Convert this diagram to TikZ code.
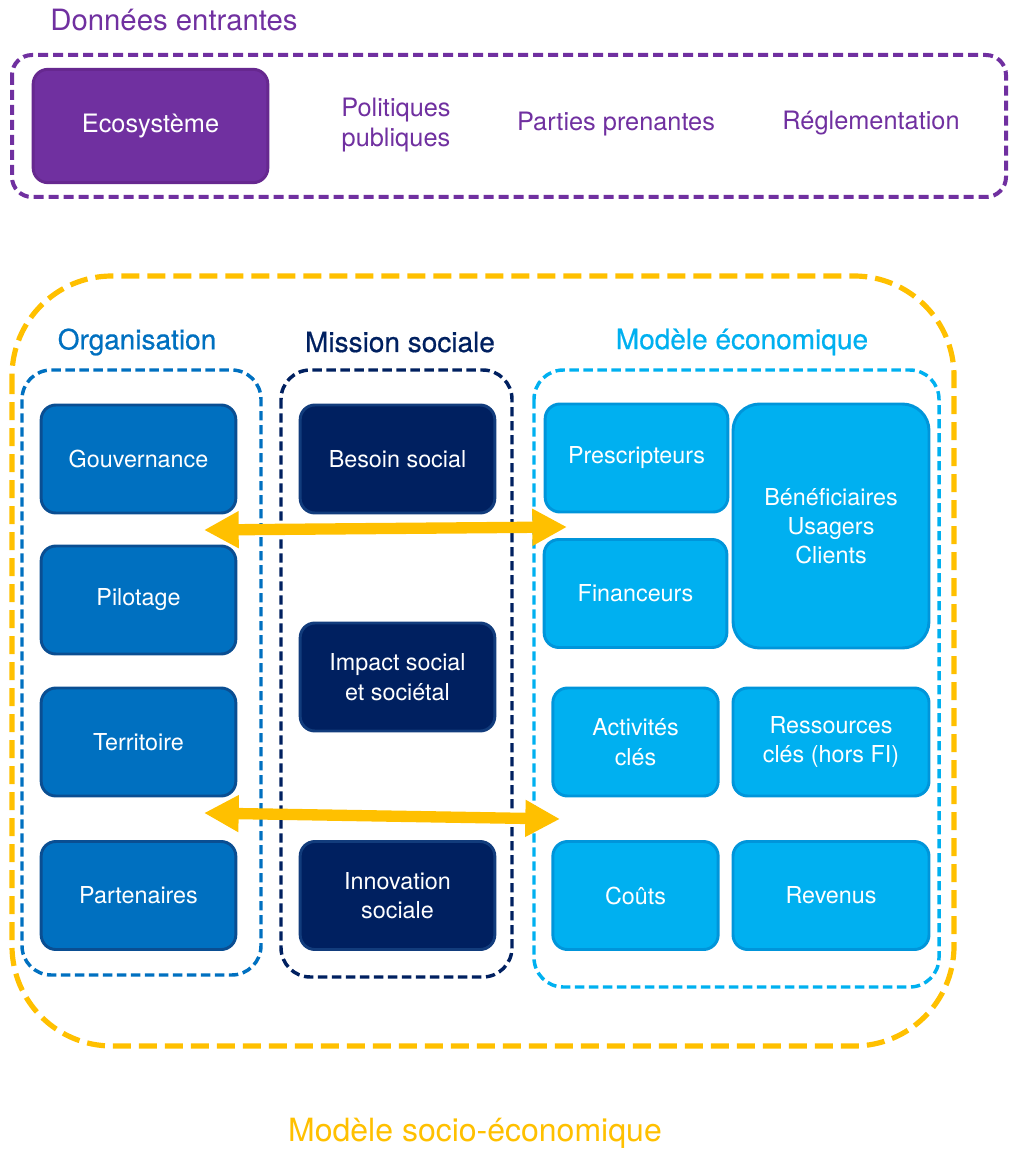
\documentclass[tikz,border=0pt]{standalone}
\usepackage{fontspec}
\setmainfont{TeX Gyre Heros}
\newfontfamily\headfont{TeX Gyre Heros}[FakeBold=0.6]
\usetikzlibrary{arrows.meta}

\definecolor{violet}{HTML}{7030A0}
\definecolor{violetdark}{HTML}{66288F}
\definecolor{orgblue}{HTML}{0070C0}
\definecolor{orgdark}{HTML}{0A4E92}
\definecolor{navy}{HTML}{002060}
\definecolor{navyedge}{HTML}{123C7C}
\definecolor{ecoblue}{HTML}{00B0F0}
\definecolor{ecodark}{HTML}{0095DA}
\definecolor{gold}{HTML}{FFC000}

\tikzset{
  card/.style={rounded corners=11pt, line width=2.2pt, align=center,
    text=white, inner sep=2pt, font=\fontsize{17.5}{22}\selectfont},
  orgcard/.style={card, fill=orgblue, draw=orgdark,
    minimum width=146pt, minimum height=81pt},
  miscard/.style={card, fill=navy, draw=navyedge,
    minimum width=146pt, minimum height=81pt},
  ecocard/.style={card, fill=ecoblue, draw=ecodark, minimum height=81pt},
  heading/.style={font=\headfont\fontsize{21}{25}\selectfont},
  frame/.style={line width=2.6pt, dash pattern=on 7pt off 3.5pt, rounded corners=22pt},
  link/.style={gold, line width=8.5pt, {Triangle[length=26pt,width=26pt]}-{Triangle[length=26pt,width=26pt]}}
}

\begin{document}
\begin{tikzpicture}[x=0.75pt, y=-0.75pt]
  \useasboundingbox (0,0) rectangle (1009,1151);

  % Incoming data
  \node[text=violet, font=\fontsize{22}{26}\selectfont] (datatitle) at (174,20) {Données entrantes};
  \draw[violet, line width=3pt, dash pattern=on 7.5pt off 3.75pt, rounded corners=15pt]
    (12,55) rectangle (1006,197);
  \node[card, fill=violet, draw=violetdark, minimum width=176pt, minimum height=85pt,
    font=\fontsize{19}{23}\selectfont] (eco) at (150.5,126) {Ecosystème};
  \foreach \name/\x/\y/\txt in {pol/396/125/{Politiques\\publiques},
      parties/616/124/{Parties prenantes}, regl/871/123/{Réglementation}} {
    \node[text=violet, align=center, font=\fontsize{19}{23}\selectfont] (\name) at (\x,\y) {\txt};
  }

  % Socio-economic model frame
  \draw[gold, line width=3.9pt, dash pattern=on 13.5pt off 6pt, rounded corners=75pt]
    (12,276) rectangle (954,1046);
  \node[text=gold, font=\fontsize{24}{28}\selectfont] (smtitle) at (475,1133) {Modèle socio-économique};

  % Organisation
  \node[heading, text=orgblue] (orgtitle) at (137,342) {Organisation};
  \draw[frame, orgblue] (22,370) rectangle (261,975);
  \foreach \name/\y/\txt in {gouv/459/Gouvernance, pilot/600/Pilotage,
      terr/742/Territoire, part/895.5/Partenaires} {
    \node[orgcard] (\name) at (138.5,\y) {\txt};
  }

  % Social mission
  \node[heading, text=navy] (mistitle) at (400,342) {Mission sociale};
  \draw[frame, navy] (281,370) rectangle (512,977);
  \foreach \name/\y/\txt in {besoin/459/{Besoin social},
      impact/677/{Impact social\\et sociétal}, innov/895.5/{Innovation\\sociale}} {
    \node[miscard] (\name) at (397.5,\y) {\txt};
  }

  % Business model
  \node[heading, text=ecoblue] (ecotitle) at (742,342) {Modèle économique};
  \draw[frame, ecoblue] (534,370) rectangle (939,987);
  \node[ecocard, minimum width=137pt] (presc) at (636.5,458) {Prescripteurs};
  \node[ecocard, minimum width=137pt] (fin) at (635.5,593.5) {Financeurs};
  \node[ecocard, minimum width=147pt, minimum height=183pt, rounded corners=20pt]
    (benef) at (831,526) {Bénéficiaires\\Usagers\\Clients};
  \node[ecocard, minimum width=124pt] (activ) at (635.5,742) {Activités\\clés};
  \node[ecocard, minimum width=147pt] (ress) at (831,742) {Ressources\\clés (hors FI)};
  \node[ecocard, minimum width=124pt] (couts) at (635.5,895.5) {Coûts};
  \node[ecocard, minimum width=147pt] (rev) at (831,895.5) {Revenus};

  % Links between the blocks
  \coordinate (topleft) at (204,530);
  \coordinate (topright) at (567,527);
  \coordinate (lowleft) at (204,813);
  \coordinate (lowright) at (560,819);
  \draw[link] (topleft) -- (topright);
  \draw[link] (lowleft) -- (lowright);
\end{tikzpicture}
\end{document}
